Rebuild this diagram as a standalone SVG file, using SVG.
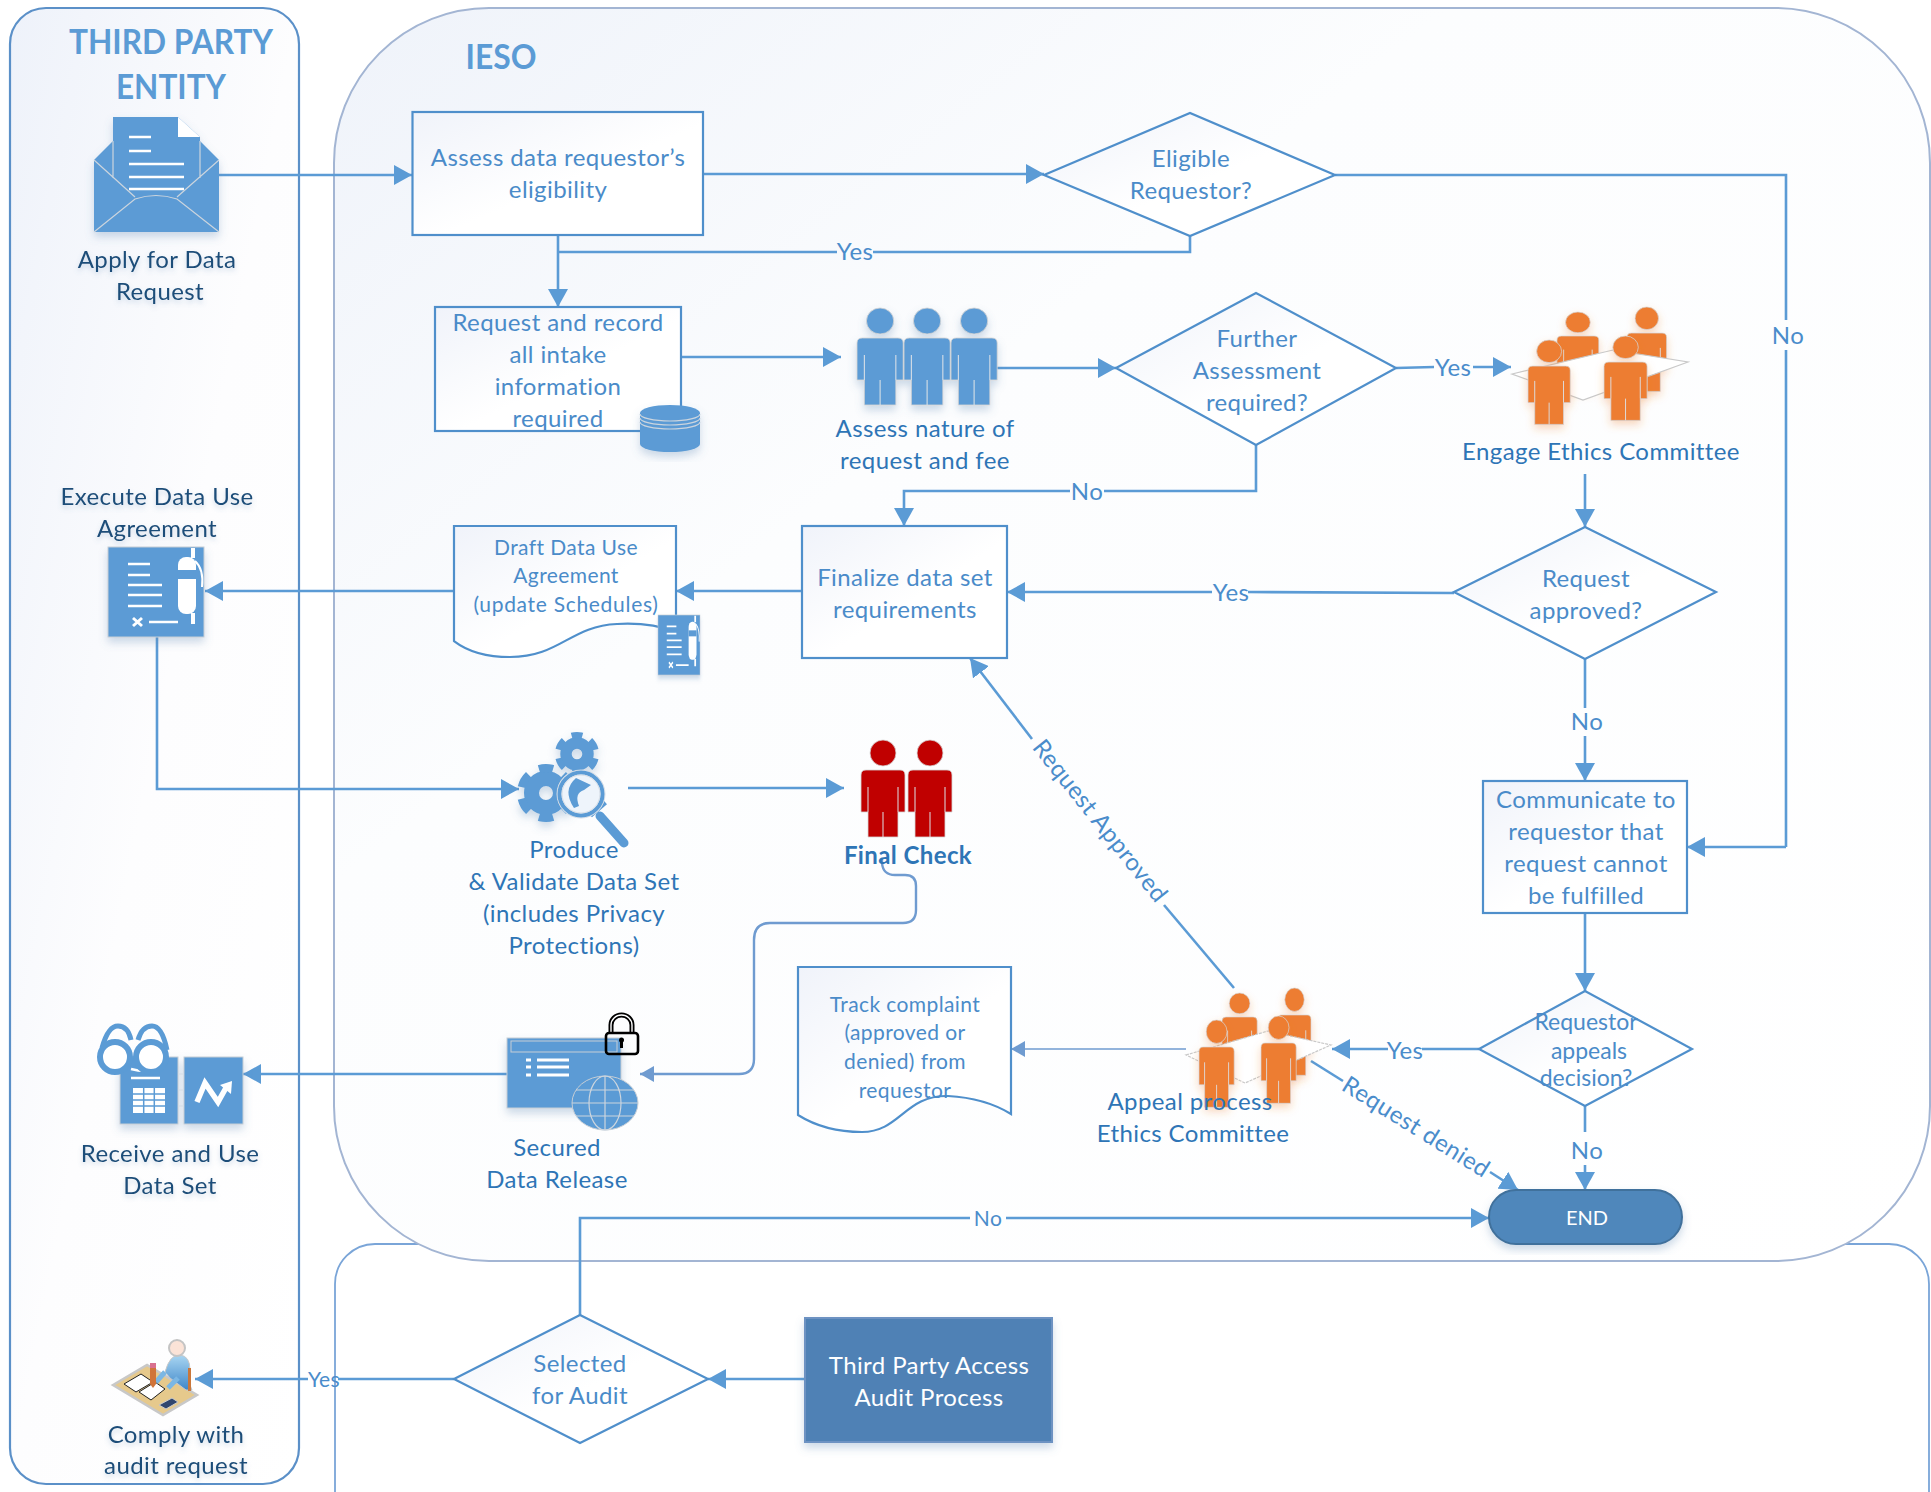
<svg xmlns="http://www.w3.org/2000/svg" width="1931" height="1492" viewBox="0 0 1931 1492">
<style>
text{font-family:"Lato","Liberation Sans",sans-serif;font-size:24px;text-anchor:middle;fill:#4a8bc9;letter-spacing:.4px}
.d{fill:#1f4e79;filter:url(#ts)}
.m{fill:#2e75b6}
.h{font-weight:700;font-size:34px;fill:#5b9bd5;letter-spacing:0}
.s{font-size:21px}
.w{fill:#fff}
.l{fill:#4a8ccb}
.c{fill:none;stroke:#5b9bd5;stroke-width:2.6}
.a{marker-end:url(#ah)}
.n{fill:url(#nf);stroke:#4f8fcb;stroke-width:2.2}
.p{fill:#5b9bd5}
.il{stroke:#fff;stroke-width:2.6;fill:none}
.t{stroke:#ccd5de;stroke-width:1.2;fill:none}
.sh{filter:url(#ds)}
</style>
<defs>
<linearGradient id="pf" x1="0" y1="0" x2="1" y2="1"><stop offset="0" stop-color="#eef2fa"/><stop offset=".5" stop-color="#fdfdfe"/><stop offset="1" stop-color="#fff"/></linearGradient>
<linearGradient id="pi" x1="0" y1="0" x2="1" y2="1"><stop offset="0" stop-color="#eff3fa"/><stop offset=".35" stop-color="#fcfdfe"/><stop offset="1" stop-color="#fff"/></linearGradient>
<linearGradient id="nf" x1="0" y1="0" x2="1" y2="1"><stop offset="0" stop-color="#f0f3fa"/><stop offset=".55" stop-color="#fff"/></linearGradient>
<linearGradient id="bb" x1="0" y1="0" x2="0" y2="1"><stop offset="0" stop-color="#a9d6f2"/><stop offset="1" stop-color="#3f87c9"/></linearGradient>
<filter id="ds" x="-20%" y="-20%" width="140%" height="140%"><feDropShadow dx="0" dy="5" stdDeviation="4" flood-color="#5b85b0" flood-opacity=".3"/></filter>
<filter id="os" x="-20%" y="-20%" width="140%" height="140%"><feDropShadow dx="0" dy="4" stdDeviation="4" flood-color="#ed7d31" flood-opacity=".3"/></filter>
<filter id="ts" x="-5%" y="-20%" width="110%" height="150%"><feDropShadow dx="0" dy="3" stdDeviation="2.5" flood-color="#5b85b0" flood-opacity=".3"/></filter>
<marker id="ah" markerUnits="userSpaceOnUse" markerWidth="18" markerHeight="20" refX="18" refY="10" orient="auto"><path d="M0 0L18 10L0 20Z" fill="#5b9bd5"/></marker>
<marker id="ah2" markerUnits="userSpaceOnUse" markerWidth="14" markerHeight="16" refX="14" refY="8" orient="auto"><path d="M0 0L14 8L0 16Z" fill="#6f9bd0"/></marker>
<g id="person"><circle cx="22" cy="13" r="13" stroke="#d5d5d5" stroke-width=".8"/><path d="M5 30H39Q44 30 44 35V72H37V97H7V72H0V35Q0 30 5 30Z" stroke="#d5d5d5" stroke-width=".8"/><path d="M7 47V72M37 47V72M22 72V97" stroke="#dde2e8" stroke-width="1" fill="none"/></g>
<g id="gear"><circle r="14.500" fill="none" stroke="#5b9bd5" stroke-width="15"/><circle r="25" fill="none" stroke="#5b9bd5" stroke-width="8" pathLength="60" stroke-dasharray="5.500 4.500" transform="rotate(13.500)"/></g>
<g id="docpen"><rect width="96" height="90" fill="#5b9bd5" stroke="#c6ced6" stroke-width="1"/><path class="il" d="M20 17H42M20 28H42M20 38H54M20 48H54M20 59H54M41 75H70"/><path d="M25 71L34 79M34 71L25 79" stroke="#fff" stroke-width="3"/><path d="M87 14Q96 22 94 40" fill="none" stroke="#fff" stroke-width="2"/><path d="M85 1V11M85 66V77" stroke="#fff" stroke-width="4"/><rect x="70" y="10" width="18" height="57" rx="8" fill="#fff"/><rect x="70" y="23" width="18" height="9" fill="#5b9bd5"/></g>
</defs>
<g id="panel-audit"><rect x="335" y="1244" width="1594" height="300" rx="40" fill="#fff" stroke="#7aa5d8" stroke-width="1.800"/></g>
<g id="panel-third-party"><rect x="10" y="8" width="289" height="1476" rx="36" fill="url(#pf)" stroke="#5b90c8" stroke-width="2.200"/>
<text class="h" x="171" y="54" textLength="204" lengthAdjust="spacingAndGlyphs">THIRD PARTY</text><text class="h" x="171" y="99" textLength="110" lengthAdjust="spacingAndGlyphs">ENTITY</text></g>
<g id="panel-ieso"><rect x="334" y="8" width="1596" height="1253" rx="155" fill="url(#pi)" stroke="#a3b5d3" stroke-width="2"/><text class="h" x="501" y="69" textLength="71" lengthAdjust="spacingAndGlyphs">IESO</text></g>

<g id="connectors">
<path class="c a" d="M219 175H412"/>
<path class="c a" d="M703 174H1044"/>
<path class="c" d="M1190 236V252H873M837 252H558"/>
<path class="c a" d="M558 235V307"/>
<path class="c a" d="M681 357H841"/>
<path class="c a" d="M995 368H1116"/>
<path class="c" d="M1396 368L1434 367"/><path class="c a" d="M1473 367H1511"/>
<path class="c" d="M1256 445V491H1104"/><path class="c a" d="M1070 491H904V526"/>
<path class="c a" d="M1585 474V527"/>
<path class="c" d="M1454 593L1248 592"/><path class="c a" d="M1212 592H1007"/>
<path class="c a" d="M802 591H676"/>
<path class="c a" d="M454 591H205"/>
<path class="c a" d="M157 637V789H519"/>
<path class="c a" d="M628 788H844"/>
<path d="M882 858V863Q883 875 895 875H905Q916 875 916 886V910Q916 923 903 923H770Q754 923 754 940V1059Q754 1074 739 1074H640" fill="none" stroke="#6f9bd0" stroke-width="2.400" marker-end="url(#ah2)"/>
<path class="c a" d="M507 1074H243"/>
<path class="c" d="M1585 659V708"/><path class="c a" d="M1585 736V781"/>
<path class="c" d="M1335 175H1786V320M1786 350V847"/><path class="c a" d="M1786 847H1687"/>
<path class="c a" d="M1585 913V991"/>
<path class="c" d="M1479 1049H1422"/><path class="c a" d="M1388 1049H1332"/>
<path class="c" d="M1585 1106V1132"/><path class="c a" d="M1585 1165V1190"/>
<path d="M1186 1049H1011" fill="none" stroke="#6f9bd0" stroke-width="1.600" marker-end="url(#ah2)"/>
<path class="c" d="M1234 988L1164 905"/><path class="c a" d="M1032 739L970 658"/>
<path class="c" d="M1311 1061L1343 1081"/><path class="c a" d="M1490 1172L1518 1190"/>
<path class="c a" d="M805 1379H708"/>
<path class="c" d="M454 1379H338"/><path class="c a" d="M308 1379H195"/>
<path class="c" d="M580 1315V1218H970"/><path class="c a" d="M1006 1218H1489"/>
<text class="l" x="855" y="260">Yes</text>
<text class="l" x="1453" y="376">Yes</text>
<text class="l" x="1087" y="500">No</text>
<text class="l" x="1231" y="601">Yes</text>
<text class="l" x="1587" y="730">No</text>
<text class="l" x="1788" y="344">No</text>
<text class="l" x="1405" y="1059">Yes</text>
<text class="l" x="1587" y="1159">No</text>
<text class="l" x="324" y="1387" style="font-size:21px">Yes</text>
<text class="l" x="988" y="1226" style="font-size:21px">No</text>
<text class="l" transform="translate(1100,821) rotate(51.400)" y="8">Request Approved</text>
<text class="l" transform="translate(1416,1127) rotate(32)" y="8">Request denied</text>
</g>

<g id="node-apply"><g class="sh">
<path class="p" d="M94 160L113 141V117H178L200 137V141L219 160V232H94Z"/></g>
<path d="M178 117V137H200Z" fill="#fff"/>
<path class="il" d="M129 137H151M129 151H151M129 164H184M129 177H184M129 189H184"/>
<path class="t" d="M94 160L135 197M219 160L177 197M94 232L135 199Q156 192 177 199L219 232M113 141V178M200 141V178"/>
<text class="d" x="157" y="268">Apply for Data</text><text class="d" x="160" y="300">Request</text></g>

<g id="node-assess"><rect class="n" x="412.500" y="112" width="290.500" height="123"/>
<text x="558" y="166">Assess data requestor’s</text><text x="558" y="198">eligibility</text></g>

<g id="node-eligible"><path class="n" d="M1044 175L1190 113L1335 175L1190 236Z"/>
<text x="1191" y="167">Eligible</text><text x="1191" y="199">Requestor?</text></g>

<g id="node-request"><rect class="n" x="435" y="307" width="246" height="124"/>
<text x="558" y="331">Request and record</text><text x="558" y="363">all intake</text><text x="558" y="395">information</text><text x="558" y="427">required</text>
<g class="sh"><path class="p" d="M640 413A30 8 0 0 1 700 413V444A30 8 0 0 1 640 444Z"/></g>
<path class="t" d="M640 414A30 7 0 0 0 700 414M640 418A30 7 0 0 0 700 418M640 422A30 7 0 0 0 700 422"/></g>

<g id="node-nature"><g class="sh" fill="#5b9bd5"><use href="#person" transform="translate(857,308) scale(1.050,1)"/><use href="#person" transform="translate(904,308) scale(1.050,1)"/><use href="#person" transform="translate(951,308) scale(1.050,1)"/></g>
<text x="925" y="437" class="m">Assess nature of</text><text x="925" y="469" class="m">request and fee</text></g>

<g id="node-further"><path class="n" d="M1116 368L1256 293L1396 368L1256 445Z"/>
<text x="1257" y="347">Further</text><text x="1257" y="379">Assessment</text><text x="1257" y="411">required?</text></g>

<g id="node-engage"><g style="filter:url(#os)" fill="#ed7d31"><use href="#person" transform="translate(1557,312) scale(.95,.8)"/><use href="#person" transform="translate(1627,307) scale(.9,.87)"/></g>
<path d="M1512 374L1613 350L1688 362L1583 400Z" fill="#fff" stroke="#c9c9c9" stroke-width="1.200"/>
<g style="filter:url(#os)" fill="#ed7d31"><use href="#person" transform="translate(1528,340) scale(.96,.87)"/><use href="#person" transform="translate(1604,336) scale(.98,.87)"/></g>
<text class="m" x="1601" y="460">Engage Ethics Committee</text></g>

<g id="node-approved"><path class="n" d="M1454 592L1585 527L1716 592L1585 659Z"/>
<text x="1586" y="587">Request</text><text x="1586" y="619">approved?</text></g>

<g id="node-finalize"><rect class="n" x="802" y="526" width="205" height="132"/>
<text x="905" y="586">Finalize data set</text><text x="905" y="618">requirements</text></g>

<g id="node-draft"><path class="n" d="M454 526H676V632Q650 622 617 624C570 626 560 657 510 657Q475 657 454 641Z"/>
<text class="s" x="566" y="555">Draft Data Use</text><text class="s" x="566" y="583">Agreement</text><text class="s" x="566" y="612" style="letter-spacing:.7px">(update Schedules)</text>
<use class="sh" href="#docpen" transform="translate(658,615) scale(.4375,.667)"/></g>

<g id="node-execute"><text class="d" x="157" y="505">Execute Data Use</text><text class="d" x="157" y="537">Agreement</text>
<use class="sh" href="#docpen" transform="translate(108,547)"/></g>

<g id="node-produce"><g class="sh"><use href="#gear" transform="translate(577,754) scale(.76)"/><use href="#gear" transform="translate(546,793)"/></g>
<path d="M590 815L605 802" stroke="#5b9bd5" stroke-width="6"/>
<path d="M600 816L624 843" stroke="#5b9bd5" stroke-width="9" stroke-linecap="round"/>
<circle cx="581" cy="794" r="24" fill="#eef4fb" stroke="#d5dde6" stroke-width="1"/><circle cx="581" cy="794" r="21.500" fill="none" stroke="#5b9bd5" stroke-width="4"/><circle cx="581" cy="794" r="19" fill="none" stroke="#d5dde6" stroke-width="1"/>
<path d="M576 778L591 785L584 790Q574 793 579 806L574 808Q562 790 576 778Z" fill="#5b9bd5"/>
<text class="m" x="574" y="858">Produce</text><text class="m" x="574" y="890">&amp; Validate Data Set</text><text class="m" x="574" y="922">(includes Privacy</text><text class="m" x="574" y="954">Protections)</text></g>

<g id="node-final"><g fill="#c00000"><use href="#person" transform="translate(861,740)"/><use href="#person" transform="translate(908,740)"/></g>
<text class="m" x="908" y="864" style="font-weight:700">Final Check</text></g>

<g id="node-secured"><g class="sh"><rect class="p" x="507" y="1038" width="114" height="70" stroke="#c6ced6"/></g>
<rect x="511" y="1041" width="106" height="11" fill="none" stroke="#c6ced6"/>
<path d="M526 1060H531M526 1067H531M526 1075H531M537 1060H569M537 1067H569M537 1075H569" stroke="#fff" stroke-width="3"/>
<ellipse class="p" cx="605" cy="1103" rx="33" ry="27" stroke="#c6ced6"/><path class="t" d="M572 1103H638M605 1076V1130M576 1090H634M576 1116H634"/><ellipse class="t" cx="605" cy="1103" rx="16" ry="27"/>
<path d="M611 1033V1025A10.500 10 0 0 1 632 1025V1033" fill="none" stroke="#000" stroke-width="5"/><path d="M611 1033V1025A10.500 10 0 0 1 632 1025V1033" fill="none" stroke="#fff" stroke-width="1.400"/>
<rect x="606" y="1033" width="32" height="21" rx="3" fill="none" stroke="#000" stroke-width="2.600"/><path d="M621.500 1040V1048" stroke="#000" stroke-width="3"/><circle cx="621.500" cy="1040" r="2.500"/>
<text class="m" x="557" y="1156">Secured</text><text class="m" x="557" y="1188">Data Release</text></g>

<g id="node-receive"><g class="sh"><rect class="p" x="120" y="1057" width="58" height="67" stroke="#c6ced6"/><rect class="p" x="184" y="1057" width="59" height="67" stroke="#c6ced6"/></g>
<path d="M178 1074H184M178 1090H184M178 1106H184" stroke="#d5dde6"/>
<path class="il" d="M131 1069Q145 1073 160 1069M131 1078H160"/>
<rect x="133" y="1088" width="32" height="25" fill="#fff"/><path d="M143.700 1088V1113M154.300 1088V1113M133 1094H165M133 1100H165M133 1106H165" stroke="#5b9bd5" stroke-width="1.500"/>
<path d="M197 1102L205 1083L218 1102L227 1086" fill="none" stroke="#fff" stroke-width="5.500"/><path d="M220 1085L232 1081L231 1094Z" fill="#fff"/>
<path d="M102 1048Q108 1026 118 1026Q128 1026 131 1040M138 1040Q142 1026 152 1026Q162 1026 167 1050" fill="none" stroke="#5b9bd5" stroke-width="5"/>
<circle cx="115" cy="1057" r="15" fill="#fff" stroke="#5b9bd5" stroke-width="6"/><circle cx="151" cy="1057" r="15" fill="#fff" stroke="#5b9bd5" stroke-width="6"/>
<text class="d" x="170" y="1162">Receive and Use</text><text class="d" x="170" y="1194">Data Set</text></g>

<g id="node-track"><path class="n" d="M798 967H1011V1114Q985 1098 948 1096C905 1095 900 1132 862 1132Q825 1132 798 1115Z"/>
<text class="s" x="905" y="1012">Track complaint</text><text class="s" x="905" y="1040">(approved or</text><text class="s" x="905" y="1069">denied)  from</text><text class="s" x="905" y="1098">requestor</text></g>

<g id="node-appeal"><g style="filter:url(#os)" fill="#ed7d31"><use href="#person" transform="translate(1222,993) scale(.8,.8)"/><use href="#person" transform="translate(1278,988) scale(.75,.9)"/></g>
<path d="M1186 1055L1268 1031L1331 1045L1245 1083Z" fill="#fff" stroke="#c9c9c9" stroke-width="1.200" stroke-dasharray="3 1"/>
<g style="filter:url(#os)" fill="#ed7d31"><use href="#person" transform="translate(1199,1020) scale(.8,.9)"/><use href="#person" transform="translate(1261,1016) scale(.8,.9)"/></g>
<text class="m" x="1190" y="1110">Appeal process</text><text class="m" x="1193" y="1142">Ethics Committee</text></g>

<g id="node-communicate"><rect class="n" x="1483" y="781" width="204" height="132"/>
<text x="1586" y="808">Communicate to</text><text x="1586" y="840">requestor that</text><text x="1586" y="872">request cannot</text><text x="1586" y="904">be fulfilled</text></g>

<g id="node-appeals"><path class="n" d="M1479 1049L1585 991L1692 1049L1585 1106Z"/>
<text style="font-size:23px;letter-spacing:0" x="1586" y="1030">Requestor</text><text style="font-size:23px;letter-spacing:0" x="1589" y="1059">appeals</text><text style="font-size:23px;letter-spacing:0" x="1586" y="1086">decision?</text></g>

<g id="node-end"><rect class="sh" x="1489" y="1190" width="193" height="54" rx="27" fill="#4f87bb" stroke="#41719c" stroke-width="2"/><text class="w" x="1587" y="1225" style="font-size:20px;letter-spacing:0">END</text></g>

<g id="node-audit"><rect class="sh" x="805" y="1318" width="247" height="124" fill="#4f81b5" stroke="#6d92c2" stroke-width="2"/><text class="w" x="929" y="1374">Third Party Access</text><text class="w" x="929" y="1406">Audit Process</text></g>

<g id="node-selected"><path class="n" d="M454 1379L580 1315L708 1379L580 1443Z"/><text x="580" y="1372">Selected</text><text x="580" y="1404">for Audit</text></g>

<g id="node-comply"><path d="M113 1385L147 1365L197 1395L163 1415Z" fill="#e6c98c" stroke="#c8c8c8" stroke-width="2.500"/>
<path d="M124 1384L141 1374L153 1382L136 1392Z" fill="#fff" stroke="#222"/><path d="M139 1392L155 1382L165 1389L151 1400Z" fill="#fff" stroke="#222"/>
<path d="M159 1405L172 1398L178 1402L166 1409Z" fill="#30466f" stroke="#ccc"/>
<path d="M165 1372Q170 1354 180 1355Q190 1356 190 1370V1385L192 1390H186L170 1378Z" fill="url(#bb)" stroke="#c8c8c8"/>
<path d="M188 1368H191V1391H188Z" fill="#c9773b"/><path d="M165 1372L156 1382M178 1378L168 1388" stroke="#7bb7e4" stroke-width="5"/>
<path d="M150 1366H156V1384L153 1388L150 1384Z" fill="#d0743a"/><rect x="150" y="1363" width="6" height="5" fill="#d9708f"/>
<circle cx="177" cy="1348" r="8" fill="#fbe3d7" stroke="#c4c4c4" stroke-width="2"/>
<text class="d" x="176" y="1443">Comply with</text><text class="d" x="176" y="1474">audit request</text></g>
</svg>
